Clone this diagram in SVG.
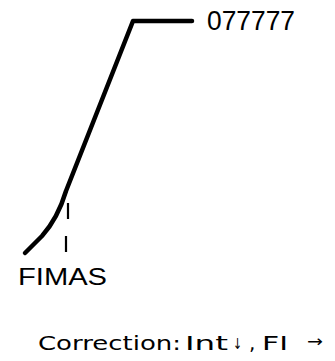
<svg xmlns="http://www.w3.org/2000/svg" width="335" height="361" viewBox="0 0 335 361">
<style>
.t{font-family:"Liberation Sans",Arial,sans-serif;fill:#000}
.c{font-family:"DejaVu Sans",sans-serif;fill:#000}
.a{font-family:"DejaVu Sans",sans-serif;fill:#000}
.curve{fill:none;stroke:#000;stroke-width:4.5;stroke-linecap:round;stroke-linejoin:round}
.dash{fill:none;stroke:#000;stroke-width:2.2}
</style>
<rect width="335" height="361" fill="#fff"/>
<g id="connectors">
<path class="curve" d="M192,21 L133,21 L66,191 Q58,218 42,236 L25,253"/>
<path class="dash" d="M68,203 L68,219 M66,236 L66,252"/>
</g>
<g id="label-077777"><text class="t" x="207" y="30" font-size="27" textLength="88" lengthAdjust="spacingAndGlyphs">077777</text></g>
<g id="label-fimas"><text class="t" x="18" y="285" font-size="24" textLength="89" lengthAdjust="spacingAndGlyphs">FIMAS</text></g>
<g id="caption">
<text class="c" x="38" y="350" font-size="20" textLength="143" lengthAdjust="spacingAndGlyphs">Correction:</text>
<text class="c" x="185" y="350" font-size="20" textLength="43" lengthAdjust="spacingAndGlyphs">Int</text>
<text class="a" x="233" y="349" font-size="15" textLength="9" lengthAdjust="spacingAndGlyphs">↓</text>
<text class="c" x="249" y="350" font-size="20">,</text>
<text class="c" x="262" y="350" font-size="20" textLength="26" lengthAdjust="spacingAndGlyphs">FI</text>
<text class="a" x="307" y="347" font-size="16" textLength="16" lengthAdjust="spacingAndGlyphs">→</text>
</g>
</svg>
